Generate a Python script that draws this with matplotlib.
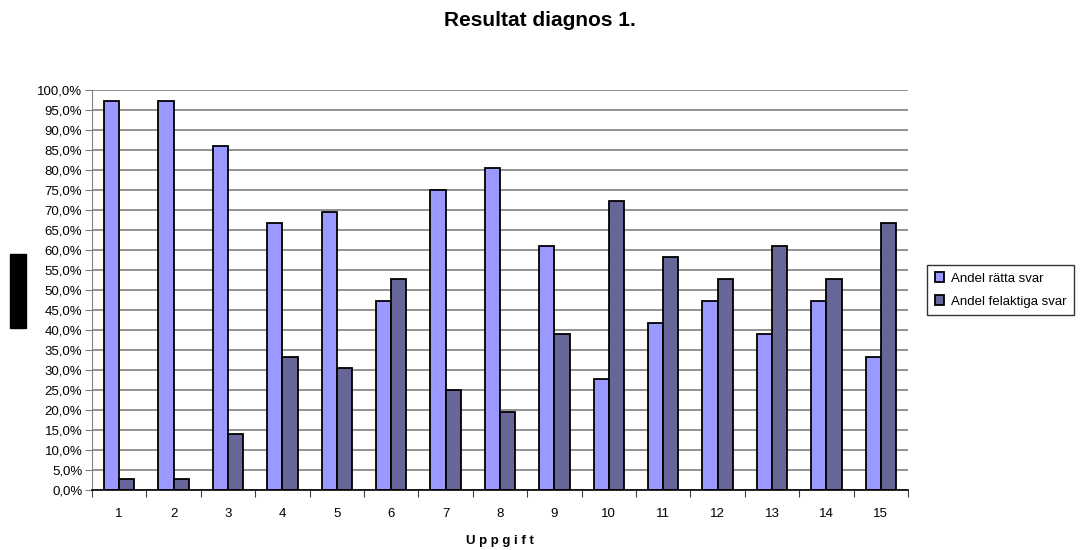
import matplotlib as mpl
mpl.use('Agg')
import matplotlib.pyplot as plt
import matplotlib.ticker as mticker
from matplotlib.patches import Rectangle
import numpy as np

plt.rcParams['font.family'] = ['Liberation Sans', 'DejaVu Sans']

# 36 elever per uppgift
uppgifter = [str(i) for i in range(1, 16)]
ratt = [35, 35, 31, 24, 25, 17, 27, 29, 22, 10, 15, 17, 14, 17, 12]
felaktiga = [1, 1, 5, 12, 11, 19, 9, 7, 14, 26, 21, 19, 22, 19, 24]
antal = 36

andel_ratt = np.array(ratt) / antal * 100
andel_fel = np.array(felaktiga) / antal * 100

fig = plt.figure(figsize=(10.88, 5.5), dpi=100)
ax = fig.add_axes([92 / 1088, 1 - 490 / 550, 816 / 1088, 400 / 550])

x = np.arange(len(uppgifter))
w = 0.28
ax.bar(x - w / 2, andel_ratt, w, color='#9999FF', edgecolor='black', linewidth=1.3,
       label='Andel rätta svar', zorder=3)
ax.bar(x + w / 2, andel_fel, w, color='#666699', edgecolor='black', linewidth=1.3,
       label='Andel felaktiga svar', zorder=3)

ax.set_xlim(-0.5, len(uppgifter) - 0.5)
ax.set_ylim(0, 100)
ax.yaxis.set_major_locator(mticker.MultipleLocator(5))
ax.yaxis.set_major_formatter(mticker.FuncFormatter(lambda v, p: f"{v:.1f}%".replace('.', ',')))
ax.grid(axis='y', color='#808080', linewidth=1.2, zorder=0)

# kategorietiketter i mitten, streck mellan grupperna
ax.set_xticks(np.arange(len(uppgifter) + 1) - 0.5)
ax.set_xticklabels([])
ax.set_xticks(x, minor=True)
ax.set_xticklabels(uppgifter, minor=True)
ax.tick_params(axis='x', which='minor', length=0, pad=13, labelsize=9.5)
ax.tick_params(axis='x', which='major', length=5, color='#404040')
ax.tick_params(axis='y', length=5, color='#808080', labelsize=9.5, pad=2)

for s in ['top', 'right']:
    ax.spines[s].set_visible(False)
ax.spines['left'].set_color('#808080')
ax.spines['bottom'].set_color('black')
ax.spines['bottom'].set_linewidth(1.2)
ax.spines['bottom'].set_zorder(4)

ax.set_xlabel('U p p g i f t', fontsize=9.5, fontweight='bold', labelpad=11)
fig.text(540 / 1088, 1 - 21 / 550, 'Resultat diagnos 1.', ha='center', va='center',
         fontsize=15, fontweight='bold')

leg = ax.legend(loc='center left', bbox_to_anchor=(927 / 1088, 1 - 290 / 550),
                bbox_transform=fig.transFigure, fontsize=9.5, frameon=True,
                fancybox=False, edgecolor='black', handlelength=0.7, handleheight=0.7,
                handletextpad=0.5, borderpad=0.6, labelspacing=0.8, borderaxespad=0)
leg.get_frame().set_linewidth(1.0)

# svart fält till vänster om y-axeln
fig.patches.append(Rectangle((10 / 1088, 1 - 328 / 550), 16 / 1088, 74 / 550,
                             transform=fig.transFigure, color='black'))

fig.savefig('out.png', dpi=100)
